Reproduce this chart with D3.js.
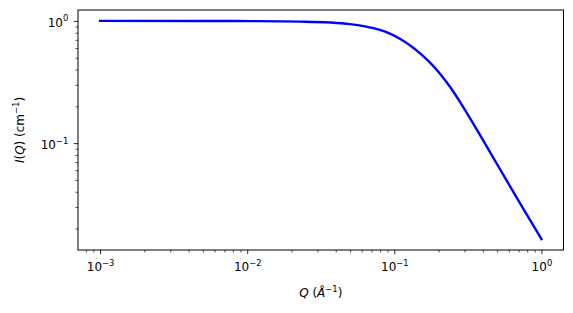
<!DOCTYPE html>
<html>
<head>
<meta charset="utf-8">
<script src="https://cdn.jsdelivr.net/npm/d3@7"></script>
<style>
  html, body { margin: 0; padding: 0; background: #fff; }
  svg { display: block; }
  text { font-family: "DejaVu Sans", sans-serif; fill: #000; }
</style>
</head>
<body>
<svg id="chart" width="573" height="313"></svg>
<script>
// Data
const qValues = [0.001, 0.00478, 0.01044, 0.02283, 0.0365, 0.04989, 0.06308, 0.07974, 0.09325, 0.1091, 0.1275, 0.1491, 0.1743, 0.2038, 0.2383, 0.2787, 0.3259, 0.3811, 0.521, 0.7124, 1.0];
const iValues = [1.000, 0.9991, 0.9962, 0.9869, 0.9702, 0.9413, 0.9012, 0.8435, 0.7881, 0.7154, 0.6328, 0.5458, 0.4577, 0.3717, 0.2906, 0.2189, 0.1611, 0.1174, 0.0617, 0.03244, 0.01639];
const xMajorTicks = [1e-3, 1e-2, 1e-1, 1e0];
const xTickExponents = ["−3", "−2", "−1", "0"];
const yMajorTicks = [1e-1, 1e0];
const yTickExponents = ["−1", "0"];

const data = qValues.map((q, i) => ({ q, v: iValues[i] }));

const svg = d3.select("#chart");
const mLeft = 78, mRight = 563.5, mTop = 10, mBottom = 250;

// matplotlib-like 5% margins in log space
const lx = d3.extent(qValues).map(Math.log10);
const ly = d3.extent(iValues).map(Math.log10);
const mx = (lx[1] - lx[0]) * 0.05, my = (ly[1] - ly[0]) * 0.05;
const x = d3.scaleLog().domain([10 ** (lx[0] - mx), 10 ** (lx[1] + mx)]).range([mLeft, mRight]);
const y = d3.scaleLog().domain([10 ** (ly[0] - my), 10 ** (ly[1] + my)]).range([mBottom, mTop]);

function minorTicks(scale) {
  const [a, b] = scale.domain();
  const out = [];
  for (let e = Math.floor(Math.log10(a)); e <= Math.ceil(Math.log10(b)); e++) {
    for (let m = 2; m <= 9; m++) {
      const v = m * 10 ** e;
      if (v >= a && v <= b) out.push(v);
    }
  }
  return out;
}

const fs = 12;

// Minor ticks
svg.append("g").attr("transform", `translate(0,${mBottom})`)
  .call(d3.axisBottom(x).tickValues(minorTicks(x)).tickSize(2.4).tickFormat(""))
  .call(g => g.select(".domain").remove())
  .call(g => g.selectAll("line").attr("stroke", "#000").attr("stroke-width", 0.7));
svg.append("g").attr("transform", `translate(${mLeft},0)`)
  .call(d3.axisLeft(y).tickValues(minorTicks(y)).tickSize(2.4).tickFormat(""))
  .call(g => g.select(".domain").remove())
  .call(g => g.selectAll("line").attr("stroke", "#000").attr("stroke-width", 0.7));

// Major ticks
const xAxis = svg.append("g").attr("transform", `translate(0,${mBottom})`)
  .call(d3.axisBottom(x).tickValues(xMajorTicks).tickSize(4.2).tickPadding(4.5).tickFormat(""))
  .call(g => g.select(".domain").remove())
  .call(g => g.selectAll("line").attr("stroke", "#000").attr("stroke-width", 0.85));
xAxis.selectAll(".tick text").each(function (d, i) {
  const t = d3.select(this).attr("font-size", fs).attr("font-family", "DejaVu Sans").attr("fill", "#000").attr("dy", "1.05em");
  t.append("tspan").text("10");
  t.append("tspan").attr("font-size", fs * 0.7).attr("dy", -fs * 0.45).text(xTickExponents[i]);
});

const yAxis = svg.append("g").attr("transform", `translate(${mLeft},0)`)
  .call(d3.axisLeft(y).tickValues(yMajorTicks).tickSize(4.2).tickPadding(5.5).tickFormat(""))
  .call(g => g.select(".domain").remove())
  .call(g => g.selectAll("line").attr("stroke", "#000").attr("stroke-width", 0.85));
yAxis.selectAll(".tick text").each(function (d, i) {
  const t = d3.select(this).attr("font-size", fs).attr("font-family", "DejaVu Sans").attr("fill", "#000").attr("dy", "0.45em");
  t.append("tspan").text("10");
  t.append("tspan").attr("font-size", fs * 0.7).attr("dy", -fs * 0.45).text(yTickExponents[i]);
});

// Line
const line = d3.line().x(d => x(d.q)).y(d => y(d.v)).curve(d3.curveMonotoneX);
svg.append("path").datum(data)
  .attr("d", line)
  .attr("fill", "none")
  .attr("stroke", "#0000ff")
  .attr("stroke-width", 2.4)
  .attr("stroke-linejoin", "round")
  .attr("stroke-linecap", "square");

// Frame
svg.append("rect")
  .attr("x", mLeft).attr("y", mTop)
  .attr("width", mRight - mLeft).attr("height", mBottom - mTop)
  .attr("fill", "none").attr("stroke", "#000").attr("stroke-width", 1);

// Axis labels
const xl = svg.append("text")
  .attr("x", (mLeft + mRight) / 2).attr("y", 297)
  .attr("text-anchor", "middle").attr("font-size", fs);
xl.append("tspan").attr("font-style", "italic").text("Q");
xl.append("tspan").text(" (");
xl.append("tspan").attr("font-style", "italic").text("Å");
xl.append("tspan").attr("font-size", fs * 0.7).attr("dy", -fs * 0.45).text("−1");
xl.append("tspan").attr("dy", fs * 0.45).text(")");

const yl = svg.append("text")
  .attr("transform", `translate(24,${(mTop + mBottom) / 2}) rotate(-90)`)
  .attr("text-anchor", "middle").attr("font-size", fs);
yl.append("tspan").attr("font-style", "italic").text("I");
yl.append("tspan").text("(");
yl.append("tspan").attr("font-style", "italic").text("Q");
yl.append("tspan").text(") (cm");
yl.append("tspan").attr("font-size", fs * 0.7).attr("dy", -fs * 0.45).text("−1");
yl.append("tspan").attr("dy", fs * 0.45).text(")");
</script>
</body>
</html>
